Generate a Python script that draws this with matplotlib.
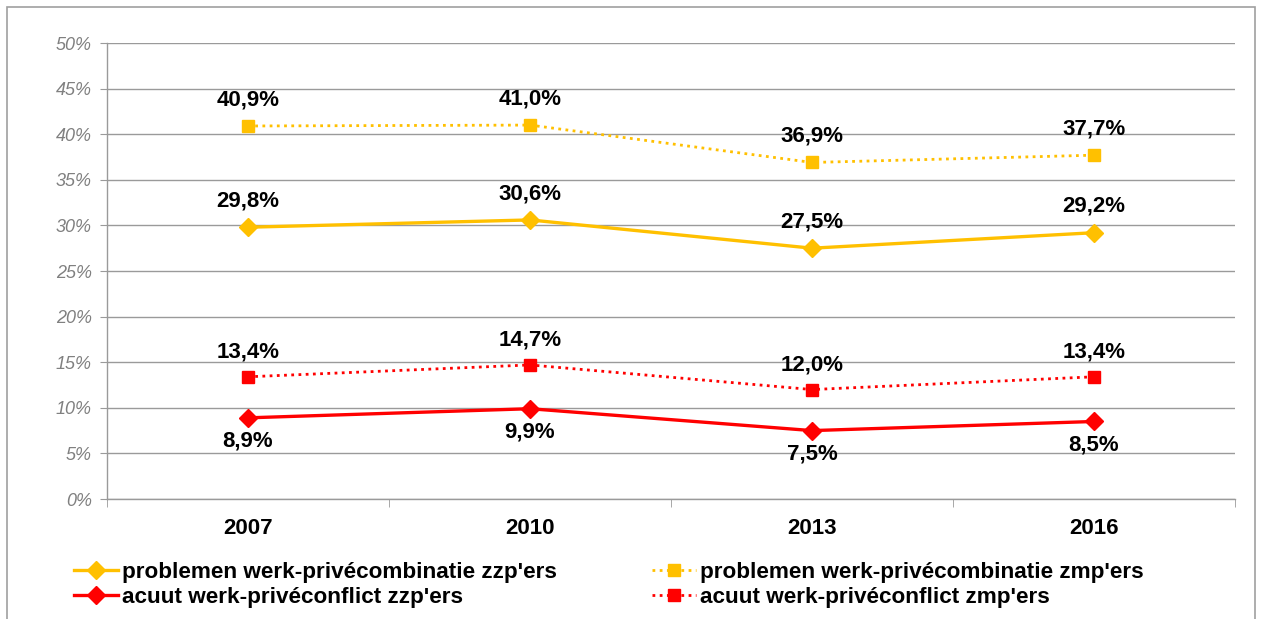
import matplotlib
matplotlib.use("Agg")
import matplotlib.pyplot as plt
from matplotlib.patches import Rectangle
from matplotlib.ticker import FixedLocator

plt.rcParams['font.family'] = ['Liberation Sans', 'DejaVu Sans']

years = ["2007", "2010", "2013", "2016"]
probl_zzp = [29.8, 30.6, 27.5, 29.2]
probl_zmp = [40.9, 41.0, 36.9, 37.7]
acuut_zzp = [8.9, 9.9, 7.5, 8.5]
acuut_zmp = [13.4, 14.7, 12.0, 13.4]
yticks = [0, 5, 10, 15, 20, 25, 30, 35, 40, 45, 50]

labels = ["problemen werk-privécombinatie zzp'ers",
          "problemen werk-privécombinatie zmp'ers",
          "acuut werk-privéconflict zzp'ers",
          "acuut werk-privéconflict zmp'ers"]

YEL = "#FFC000"
RED = "#FF0000"
GRID = "#9a9a9a"

fig = plt.figure(figsize=(12.64, 6.19), dpi=100)
fig.patches.append(Rectangle((7/1264, -0.1), (1255-7)/1264, 1.1 - 7/619,
                             transform=fig.transFigure, fill=False,
                             edgecolor="#a0a0a0", linewidth=1.2))
ax = fig.add_axes([107/1264, 1-499/619, (1235-107)/1264, (499-43)/619])

x = list(range(len(years)))
l1, = ax.plot(x, probl_zzp, color=YEL, lw=2.4, marker='D', ms=9, zorder=3)
l2, = ax.plot(x, probl_zmp, color=YEL, lw=2.0, ls=(0, (1, 1.6)), marker='s', ms=9, zorder=3)
l3, = ax.plot(x, acuut_zzp, color=RED, lw=2.4, marker='D', ms=9, zorder=3)
l4, = ax.plot(x, acuut_zmp, color=RED, lw=2.0, ls=(0, (1, 1.6)), marker='s', ms=9, zorder=3)

def lab(vals, dy):
    for xi, v in zip(x, vals):
        ax.annotate(f"{v:.1f}%".replace(".", ","), (xi, v), xytext=(0, dy),
                    textcoords="offset points", ha="center", va="center",
                    fontsize=16, fontweight="bold", color="black")

lab(probl_zzp, 19)
lab(probl_zmp, 19)
lab(acuut_zzp, -17)
lab(acuut_zmp, 18)

ax.set_xlim(-0.5, 3.5)
ax.set_ylim(0, 50)
ax.set_yticks(yticks)
ax.set_yticklabels([f"{t}%" for t in yticks], fontsize=13, style="italic", color="#808080")
ax.set_xticks(x)
ax.set_xticklabels(years, fontsize=16, fontweight="bold")
ax.xaxis.set_minor_locator(FixedLocator([-0.5, 0.5, 1.5, 2.5, 3.5]))
ax.tick_params(axis='x', which='major', length=0, pad=14)
ax.tick_params(axis='x', which='minor', length=6, color=GRID, direction='out')
ax.tick_params(axis='y', length=5, color=GRID, pad=6)
ax.grid(axis='y', color=GRID, lw=1.0)
ax.set_axisbelow(True)
for s in ['top', 'right']:
    ax.spines[s].set_visible(False)
for s in ['left', 'bottom']:
    ax.spines[s].set_color(GRID)
    ax.spines[s].set_linewidth(1.0)

fig.legend([l1, l3, l2, l4], [labels[0], labels[2], labels[1], labels[3]],
           ncol=2, loc="upper left", bbox_to_anchor=(74/1264, 1-562/619),
           frameon=False, prop={'weight': 'bold', 'size': 16.2},
           handlelength=1.95, handletextpad=0.2, labelspacing=0.18,
           columnspacing=4.2, borderaxespad=0, borderpad=0)

fig.savefig("out.png", dpi=100)
